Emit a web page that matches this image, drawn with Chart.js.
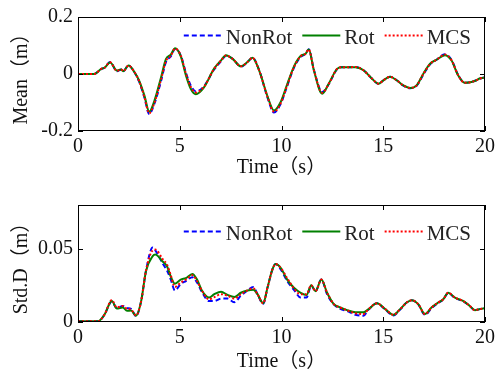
<!DOCTYPE html>
<html>
<head>
<meta charset="utf-8">
<script src="https://cdn.jsdelivr.net/npm/chart.js@4"></script>
<style>
  html, body { margin: 0; padding: 0; background: #fff; }
  .wrap { position: relative; width: 499px; height: 376px; }
  canvas { position: absolute; left: 0; }
  #meanChart { top: 0; }
  #stdChart { top: 188px; }
</style>
</head>
<body>
<div class="wrap">
  <canvas id="meanChart" width="499" height="188"></canvas>
  <canvas id="stdChart" width="499" height="188"></canvas>
</div>
<script>
const seriesNames = ['NonRot', 'Rot', 'MCS'];
const timeTicks = [0, 5, 10, 15, 20];
const meanTicks = [-0.2, 0, 0.2];
const stdTicks = [0, 0.05];

const meanTime = [0, 0.8, 1.14, 1.3, 1.58, 1.91, 2.12, 2.23, 2.48, 2.77,
  3.01, 3.26, 3.5, 3.75, 4.08, 4.32, 4.56, 4.77, 5.05, 5.3,
  5.54, 5.79, 6.19, 6.68, 7.03, 7.27, 7.6, 8.0, 8.33, 8.57,
  8.9, 9.31, 9.63, 9.96, 10.28, 10.61, 10.94, 11.18, 11.34, 11.59,
  12.0, 12.32, 12.73, 12.97, 13.38, 13.63, 14.03, 14.44, 14.77, 15.01,
  15.34, 15.66, 15.99, 16.32, 16.64, 16.97, 17.3, 17.62, 18.03, 18.35,
  18.68, 19.0, 19.33, 19.58, 19.74, 20];
const meanNonRot = [0, 0, 0.017, 0.022, 0.042, 0.010, 0.016, 0.010, 0.030, 0.006,
  -0.028, -0.082, -0.140, -0.105, -0.025, 0.042, 0.062, 0.088, 0.065, 0.005,
  -0.040, -0.061, -0.043, 0.015, 0.045, 0.063, 0.053, 0.026, 0.042, 0.057,
  0.014, -0.082, -0.135, -0.105, -0.042, 0.022, 0.060, 0.071, 0.087, 0.015,
  -0.063, -0.036, 0.017, 0.024, 0.024, 0.025, 0.013, -0.016, -0.035, -0.022,
  -0.010, -0.022, -0.041, -0.050, -0.041, -0.002, 0.034, 0.050, 0.069, 0.050,
  -0.003, -0.031, -0.028, -0.022, -0.016, -0.012];
const meanRot = [0, 0, 0.018, 0.022, 0.040, 0.012, 0.016, 0.010, 0.030, 0.007,
  -0.024, -0.075, -0.132, -0.095, -0.012, 0.052, 0.068, 0.090, 0.062, -0.004,
  -0.052, -0.071, -0.047, 0.018, 0.048, 0.066, 0.053, 0.027, 0.042, 0.057,
  0.013, -0.078, -0.128, -0.098, -0.036, 0.026, 0.063, 0.071, 0.086, 0.013,
  -0.069, -0.034, 0.018, 0.024, 0.024, 0.024, 0.013, -0.016, -0.034, -0.022,
  -0.010, -0.022, -0.040, -0.049, -0.040, 0.001, 0.036, 0.050, 0.066, 0.048,
  -0.005, -0.031, -0.028, -0.022, -0.016, -0.012];
const meanMcs = [0, 0, 0.018, 0.022, 0.041, 0.011, 0.016, 0.010, 0.030, 0.007,
  -0.026, -0.080, -0.138, -0.102, -0.020, 0.045, 0.064, 0.089, 0.065, 0.002,
  -0.045, -0.065, -0.045, 0.017, 0.047, 0.065, 0.053, 0.027, 0.042, 0.057,
  0.013, -0.080, -0.132, -0.103, -0.040, 0.024, 0.062, 0.071, 0.086, 0.014,
  -0.066, -0.035, 0.018, 0.024, 0.024, 0.025, 0.013, -0.016, -0.034, -0.022,
  -0.010, -0.022, -0.040, -0.049, -0.040, 0.000, 0.035, 0.050, 0.068, 0.049,
  -0.004, -0.031, -0.028, -0.022, -0.016, -0.012];

const stdTime = [0, 0.98, 1.3, 1.66, 1.91, 2.2, 2.41, 2.61, 2.85, 3.1,
  3.34, 3.67, 3.8, 4.16, 4.38, 4.56, 4.76, 5.05, 5.3, 5.62,
  5.85, 6.11, 6.44, 6.7, 7.03, 7.35, 7.68, 8.0, 8.33, 8.62,
  8.82, 9.1, 9.31, 9.55, 9.71, 9.96, 10.28, 10.61, 10.94, 11.23,
  11.46, 11.67, 11.96, 12.24, 12.57, 12.89, 13.22, 13.63, 14.03, 14.28,
  14.69, 15.1, 15.5, 15.83, 16.15, 16.4, 16.72, 17.05, 17.37, 17.7,
  17.95, 18.19, 18.52, 18.92, 19.25, 19.5, 19.74, 20];
const stdNonRot = [0.0005, 0.0005, 0.005, 0.014, 0.0095, 0.011, 0.0095, 0.009, 0.004, 0.014,
  0.035, 0.0509, 0.049, 0.040, 0.035, 0.029, 0.0216, 0.026, 0.028, 0.0306,
  0.027, 0.020, 0.0144, 0.0144, 0.016, 0.016, 0.0135, 0.018, 0.0216, 0.0239,
  0.019, 0.0125, 0.0234, 0.0358, 0.0396, 0.036, 0.028, 0.022, 0.0167, 0.0167,
  0.025, 0.021, 0.029, 0.019, 0.012, 0.009, 0.0075, 0.005, 0.0043, 0.0085,
  0.0128, 0.0085, 0.0045, 0.0085, 0.0133, 0.0149, 0.012, 0.0048, 0.0095, 0.013,
  0.0155, 0.0198, 0.0165, 0.0142, 0.011, 0.008, 0.0088, 0.0095];
const stdRot = [0.0005, 0.0005, 0.005, 0.0144, 0.0092, 0.0099, 0.0077, 0.0078, 0.0043, 0.014,
  0.0347, 0.045, 0.0462, 0.0414, 0.038, 0.031, 0.0262, 0.029, 0.030, 0.0329,
  0.029, 0.021, 0.0167, 0.019, 0.0207, 0.0185, 0.0171, 0.020, 0.0216, 0.022,
  0.019, 0.0128, 0.0234, 0.0358, 0.0396, 0.037, 0.029, 0.0234, 0.020, 0.0185,
  0.0252, 0.0211, 0.029, 0.020, 0.0122, 0.0099, 0.0081, 0.0066, 0.0066, 0.0088,
  0.0128, 0.0088, 0.0049, 0.0088, 0.0133, 0.0149, 0.0122, 0.0054, 0.0099, 0.0133,
  0.0155, 0.020, 0.0167, 0.0144, 0.011, 0.0081, 0.0088, 0.0095];
const stdMcs = [0.0005, 0.0005, 0.005, 0.015, 0.010, 0.011, 0.009, 0.0085, 0.0045, 0.014,
  0.035, 0.049, 0.0495, 0.043, 0.039, 0.032, 0.024, 0.027, 0.029, 0.032,
  0.028, 0.021, 0.0155, 0.017, 0.019, 0.018, 0.016, 0.019, 0.0216, 0.023,
  0.019, 0.0128, 0.0234, 0.0358, 0.0396, 0.037, 0.030, 0.023, 0.019, 0.019,
  0.0252, 0.021, 0.029, 0.020, 0.0122, 0.0099, 0.008, 0.006, 0.0055, 0.0088,
  0.0128, 0.0088, 0.0049, 0.0088, 0.0133, 0.0149, 0.0122, 0.0054, 0.0099, 0.0133,
  0.0155, 0.020, 0.0167, 0.0144, 0.011, 0.0081, 0.0088, 0.0095];

const serif = '"Liberation Serif", "Noto Sans CJK SC", serif';
// order: lower number is drawn on top, so the red dots sit over the others
const lineStyles = [
  { color: '#0000ff', width: 2, dash: [5, 3], order: 2 },
  { color: '#008000', width: 2, dash: [], order: 1 },
  { color: '#ff0000', width: 2, dash: [2, 2], order: 0 }
];

// box round the plot plus inward ticks on all four sides
const boxPlugin = {
  id: 'matlabBox',
  afterDatasetsDraw(chart) {
    const { ctx, chartArea: a } = chart;
    const x = chart.scales.x, y = chart.scales.y;
    ctx.save();
    ctx.strokeStyle = '#000';
    ctx.lineWidth = 1;
    ctx.setLineDash([]);
    ctx.strokeRect(a.left + 0.5, a.top + 0.5, a.right - a.left - 1, a.bottom - a.top - 1);
    ctx.beginPath();
    x.ticks.forEach(t => {
      const px = Math.round(x.getPixelForValue(t.value)) + 0.5;
      ctx.moveTo(px, a.bottom); ctx.lineTo(px, a.bottom - 5);
      ctx.moveTo(px, a.top); ctx.lineTo(px, a.top + 5);
    });
    y.ticks.forEach(t => {
      const py = Math.round(y.getPixelForValue(t.value)) + 0.5;
      ctx.moveTo(a.left, py); ctx.lineTo(a.left + 5, py);
      ctx.moveTo(a.right, py); ctx.lineTo(a.right - 5, py);
    });
    ctx.stroke();
    ctx.restore();
  }
};

// legend without frame, sitting in the upper right of the plot
const legendPlugin = {
  id: 'insideLegend',
  afterDraw(chart, args, opts) {
    const { ctx, chartArea: a } = chart;
    ctx.save();
    ctx.font = '21px ' + serif;
    ctx.textBaseline = 'middle';
    ctx.fillStyle = '#222';
    const lineLen = 38, gap = 4, itemGap = 10;
    const sets = chart.data.datasets;
    const widths = sets.map(d => ctx.measureText(d.label).width);
    let total = 0;
    sets.forEach((d, i) => { total += lineLen + gap + widths[i] + (i ? itemGap : 0); });
    let xp = a.right - opts.right - total;
    const yp = a.top + opts.top;
    sets.forEach((d, i) => {
      ctx.beginPath();
      ctx.strokeStyle = d.borderColor;
      ctx.lineWidth = d.borderWidth;
      ctx.setLineDash(d.borderDash);
      ctx.moveTo(xp, yp + 0.5);
      ctx.lineTo(xp + lineLen, yp + 0.5);
      ctx.stroke();
      ctx.setLineDash([]);
      ctx.fillText(d.label, xp + lineLen + gap, yp + 3);
      xp += lineLen + gap + widths[i] + itemGap;
    });
    ctx.restore();
  }
};

function makeChart(id, time, series, yMin, yMax, yTicks, yTitle, xHeight, legendTop, titlePad) {
  const datasets = series.map((vals, i) => ({
    label: seriesNames[i],
    data: vals.map((v, k) => ({ x: time[k], y: v })),
    borderColor: lineStyles[i].color,
    borderWidth: lineStyles[i].width,
    borderDash: lineStyles[i].dash,
    order: lineStyles[i].order,
    pointRadius: 0,
    fill: false,
    cubicInterpolationMode: 'monotone'
  }));

  return new Chart(document.getElementById(id), {
    type: 'line',
    data: { datasets },
    plugins: [boxPlugin, legendPlugin],
    options: {
      responsive: false,
      animation: false,
      devicePixelRatio: 1,
      layout: { padding: { left: 0, right: 12, top: 15, bottom: 0 } },
      plugins: {
        legend: { display: false },
        tooltip: { enabled: false },
        insideLegend: { right: 14, top: legendTop }
      },
      scales: {
        x: {
          type: 'linear',
          min: 0,
          max: 20,
          afterBuildTicks: s => { s.ticks = timeTicks.map(v => ({ value: v })); },
          afterFit: s => { s.height = xHeight; },
          grid: { display: false, drawTicks: false },
          border: { display: false },
          ticks: { padding: 4, color: '#111', font: { family: serif, size: 20 } },
          title: {
            display: true,
            text: 'Time（s）',
            color: '#111',
            font: { family: serif, size: 20 },
            padding: { top: 0, bottom: titlePad }
          }
        },
        y: {
          min: yMin,
          max: yMax,
          afterBuildTicks: s => { s.ticks = yTicks.map(v => ({ value: v })); },
          afterFit: s => { s.width = 78; },
          grid: { display: false, drawTicks: false },
          border: { display: false },
          ticks: { padding: 5, color: '#111', font: { family: serif, size: 20 } },
          title: {
            display: true,
            text: yTitle,
            color: '#111',
            font: { family: serif, size: 20 },
            padding: { top: 10, bottom: 0 }
          }
        }
      }
    }
  });
}

makeChart('meanChart', meanTime, [meanNonRot, meanRot, meanMcs], -0.2, 0.2, meanTicks, 'Mean（m）', 57, 18, 8);
makeChart('stdChart', stdTime, [stdNonRot, stdRot, stdMcs], 0, 0.08, stdTicks, 'Std.D（m）', 54, 26, 2);
</script>
</body>
</html>
